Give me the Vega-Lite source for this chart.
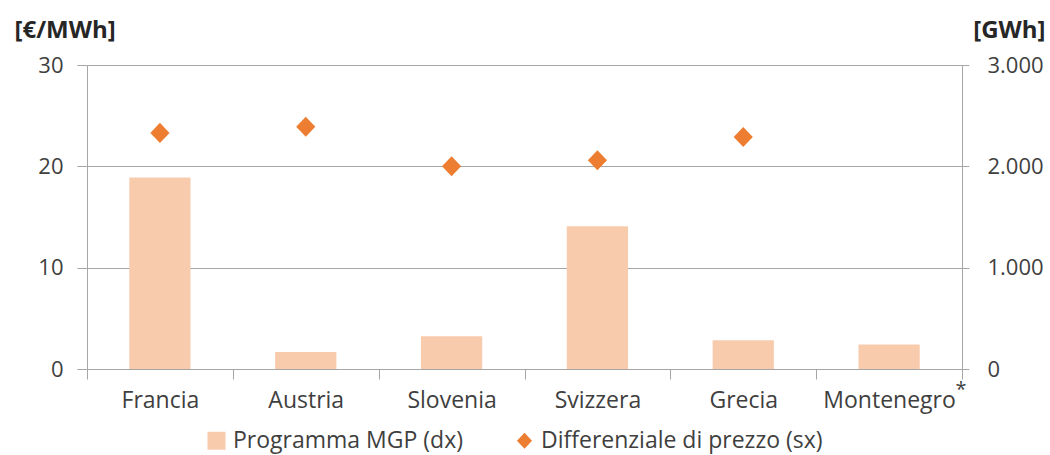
{
  "$schema": "https://vega.github.io/schema/vega-lite/v6.json",
  "width": 875,
  "height": 304,
  "autosize": "none",
  "padding": {"left": 87, "top": 65, "right": 88, "bottom": 86},
  "background": "white",
  "config": {
    "font": "Open Sans",
    "view": {"stroke": null},
    "axis": {
      "domainColor": "#A6A6A6",
      "tickColor": "#A6A6A6",
      "gridColor": "#A6A6A6",
      "labelColor": "#3F3F3F",
      "titleColor": "#262626"
    }
  },
  "data": {
    "values": [
      {"paese": "Francia", "serie": "Programma MGP (dx)", "valore": 1890},
      {"paese": "Austria", "serie": "Programma MGP (dx)", "valore": 167},
      {"paese": "Slovenia", "serie": "Programma MGP (dx)", "valore": 322},
      {"paese": "Svizzera", "serie": "Programma MGP (dx)", "valore": 1409},
      {"paese": "Grecia", "serie": "Programma MGP (dx)", "valore": 283},
      {"paese": "Montenegro", "serie": "Programma MGP (dx)", "valore": 242},
      {"paese": "Francia", "serie": "Differenziale di prezzo (sx)", "valore": 23.3},
      {"paese": "Austria", "serie": "Differenziale di prezzo (sx)", "valore": 23.9},
      {"paese": "Slovenia", "serie": "Differenziale di prezzo (sx)", "valore": 20.0},
      {"paese": "Svizzera", "serie": "Differenziale di prezzo (sx)", "valore": 20.6},
      {"paese": "Grecia", "serie": "Differenziale di prezzo (sx)", "valore": 22.9},
      {"paese": "Montenegro", "serie": "nota", "valore": 0, "nota": "*"}
    ]
  },
  "encoding": {
    "x": {
      "field": "paese",
      "type": "nominal",
      "sort": ["Francia", "Austria", "Slovenia", "Svizzera", "Grecia", "Montenegro"],
      "scale": {"paddingInner": 0, "paddingOuter": 0},
      "axis": {
        "title": null,
        "labelAngle": 0,
        "labelFontSize": 23,
        "labelPadding": 10,
        "tickBand": "extent",
        "tickSize": 10,
        "grid": false
      }
    }
  },
  "layer": [
    {
      "transform": [{"filter": "datum.serie === 'Programma MGP (dx)'"}],
      "mark": {"type": "bar", "width": {"band": 0.42}},
      "encoding": {
        "y": {
          "field": "valore",
          "type": "quantitative",
          "scale": {"domain": [0, 3000]},
          "axis": {
            "orient": "right",
            "values": [0, 1000, 2000, 3000],
            "labelExpr": "replace(format(datum.value, ','), ',', '.')",
            "labelFontSize": 22,
            "labelPadding": 18,
            "tickSize": 7,
            "grid": false,
            "title": "[GWh]",
            "titleAngle": 0,
            "titleFontSize": 24,
            "titleFontWeight": "bold",
            "titleAlign": "right",
            "titleBaseline": "alphabetic",
            "titleX": 83,
            "titleY": -28
          }
        },
        "color": {
          "field": "serie",
          "type": "nominal",
          "scale": {
            "domain": ["Programma MGP (dx)", "Differenziale di prezzo (sx)"],
            "range": ["#F8CBAD", "#ED7D31"]
          },
          "legend": {
            "title": null,
            "orient": "none",
            "direction": "horizontal",
            "legendX": 118,
            "legendY": 364,
            "labelFontSize": 23,
            "labelColor": "#3F3F3F",
            "labelLimit": 500,
            "symbolSize": 324,
            "symbolStrokeWidth": 0,
            "labelOffset": 5,
            "columnPadding": 50
          }
        }
      }
    },
    {
      "transform": [{"filter": "datum.serie === 'Differenziale di prezzo (sx)'"}],
      "mark": {"type": "point", "filled": true, "opacity": 1, "size": 520},
      "encoding": {
        "y": {
          "field": "valore",
          "type": "quantitative",
          "scale": {"domain": [0, 30]},
          "axis": {
            "orient": "left",
            "values": [0, 10, 20, 30],
            "labelFontSize": 22,
            "labelPadding": 14,
            "tickSize": 10,
            "grid": true,
            "title": "[€/MWh]",
            "titleAngle": 0,
            "titleFontSize": 24,
            "titleFontWeight": "bold",
            "titleAlign": "left",
            "titleBaseline": "alphabetic",
            "titleX": -73,
            "titleY": -28
          }
        },
        "color": {
          "field": "serie",
          "type": "nominal",
          "scale": {
            "domain": ["Programma MGP (dx)", "Differenziale di prezzo (sx)"],
            "range": ["#F8CBAD", "#ED7D31"]
          }
        },
        "shape": {
          "field": "serie",
          "type": "nominal",
          "scale": {
            "domain": ["Programma MGP (dx)", "Differenziale di prezzo (sx)"],
            "range": ["square", "M0,-0.88L0.84,0L0,0.88L-0.84,0Z"]
          }
        }
      }
    },
    {
      "transform": [{"filter": "datum.serie === 'nota'"}],
      "mark": {"type": "text", "fontSize": 20, "color": "#3F3F3F", "dx": 72, "dy": 21, "clip": false},
      "encoding": {
        "y": {"field": "valore", "type": "quantitative", "scale": {"domain": [0, 30]}, "axis": null},
        "text": {"field": "nota"}
      }
    }
  ],
  "resolve": {"scale": {"y": "independent"}}
}
